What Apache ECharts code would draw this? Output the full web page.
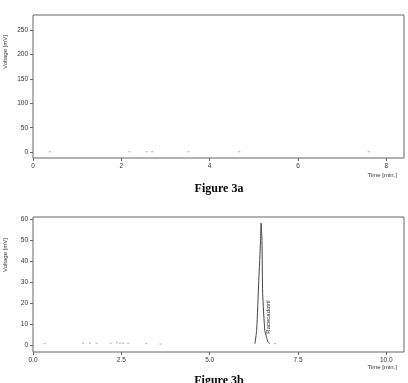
<!DOCTYPE html>
<html>
<head>
<meta charset="utf-8">
<script src="https://cdn.jsdelivr.net/npm/echarts@6/dist/echarts.min.js"></script>
<style>html,body{margin:0;padding:0;background:#fff}#c{width:408px;height:383px}</style>
</head>
<body>
<div id="c"></div>
<script>
// ---- data ----
// Figure 3a: small baseline blips (time [min], voltage [mV])
const aTimes = [0.38, 2.18, 2.57, 2.70, 3.52, 4.67, 7.60];
const aVolts = [0.8, 0.8, 0.8, 0.8, 0.8, 0.8, 0.8];
const aXTicks = [0, 2, 4, 6, 8];
const aYTicks = [0, 50, 100, 150, 200, 250];

// Figure 3b: Racecadotril peak trace
const bPeakTimes = [6.28, 6.33, 6.39, 6.44, 6.455, 6.48, 6.50, 6.56, 6.61, 6.65, 6.71];
const bPeakVolts = [0.7, 7.2, 31, 50, 58.3, 50, 24.8, 7.2, 3.8, 1.6, 0.7];
// Figure 3b: small baseline blips
const bDotTimes = [0.33, 1.42, 1.61, 1.80, 2.20, 2.38, 2.46, 2.55, 2.69, 3.21, 3.61, 6.85];
const bDotVolts = [0.8, 1.0, 1.0, 1.0, 1.0, 1.2, 1.0, 1.0, 1.0, 0.8, 0.6, 0.8];
const bXTicks = [0.0, 2.5, 5.0, 7.5, 10.0];
const bYTicks = [0, 10, 20, 30, 40, 50, 60];
const peakLabel = 'Racecadotril';

// ---- chart ----
const TXT = '#333';
const FR = '#666';
const fontFam = 'Liberation Sans, Arial, sans-serif';

function xAxisCfg(gi, min, max, ticks, dec) {
  return {
    type: 'value', gridIndex: gi, min: min, max: max, position: 'bottom',
    splitLine: {show: false},
    axisLine: {show: false, onZero: false},
    axisTick: {show: true, length: 3, lineStyle: {color: FR}, customValues: ticks},
    axisLabel: {color: TXT, fontSize: 6.5, fontFamily: fontFam, margin: 5, customValues: ticks,
      formatter: v => v.toFixed(dec)}
  };
}
function yAxisCfg(gi, min, max, ticks) {
  return {
    type: 'value', gridIndex: gi, min: min, max: max, position: 'left',
    splitLine: {show: false},
    axisLine: {show: false, onZero: false},
    axisTick: {show: true, length: 3, lineStyle: {color: FR}, customValues: ticks},
    axisLabel: {color: TXT, fontSize: 6.5, fontFamily: fontFam, margin: 5, customValues: ticks,
      formatter: v => String(v)}
  };
}

const chart = echarts.init(document.getElementById('c'), null, {renderer: 'canvas'});
chart.setOption({
  animation: false,
  backgroundColor: '#fff',
  grid: [
    {left: 33, right: 4, top: 15, height: 143, show: true, borderColor: FR, borderWidth: 1, backgroundColor: 'transparent'},
    {left: 33, right: 4, top: 217, height: 135, show: true, borderColor: FR, borderWidth: 1, backgroundColor: 'transparent'}
  ],
  xAxis: [
    xAxisCfg(0, 0, 8.4, aXTicks, 0),
    xAxisCfg(1, 0, 10.5, bXTicks, 1)
  ],
  yAxis: [
    yAxisCfg(0, -12, 281, aYTicks),
    yAxisCfg(1, -3.2, 61.2, bYTicks)
  ],
  series: [
    {
      type: 'scatter', xAxisIndex: 0, yAxisIndex: 0,
      data: aTimes.map((t, i) => [t, aVolts[i]]),
      symbol: 'rect', symbolSize: [2, 1], itemStyle: {color: '#999'}
    },
    {
      type: 'scatter', xAxisIndex: 1, yAxisIndex: 1,
      data: bDotTimes.map((t, i) => [t, bDotVolts[i]]),
      symbol: 'rect', symbolSize: [2, 1], itemStyle: {color: '#999'}
    },
    {
      type: 'line', xAxisIndex: 1, yAxisIndex: 1,
      data: bPeakTimes.map((t, i) => [t, bPeakVolts[i]]),
      showSymbol: false, smooth: 0.2,
      lineStyle: {color: '#444', width: 1}
    }
  ],
  graphic: [
    {type: 'text', x: 5, y: 52, rotation: Math.PI / 2,
      style: {text: 'Voltage [mV]', fill: TXT, font: '6px ' + fontFam, align: 'center', verticalAlign: 'middle'}},
    {type: 'text', x: 5, y: 255, rotation: Math.PI / 2,
      style: {text: 'Voltage [mV]', fill: TXT, font: '6px ' + fontFam, align: 'center', verticalAlign: 'middle'}},
    {type: 'text', x: 397, y: 175,
      style: {text: 'Time [min.]', fill: TXT, font: '6px ' + fontFam, align: 'right', verticalAlign: 'middle'}},
    {type: 'text', x: 397, y: 367,
      style: {text: 'Time [min.]', fill: TXT, font: '6px ' + fontFam, align: 'right', verticalAlign: 'middle'}},
    {type: 'text', x: 219, y: 189,
      style: {text: 'Figure 3a', fill: '#000', font: 'bold 12px Liberation Serif, Times New Roman, serif', align: 'center', verticalAlign: 'middle'}},
    {type: 'text', x: 219, y: 381,
      style: {text: 'Figure 3b', fill: '#000', font: 'bold 12px Liberation Serif, Times New Roman, serif', align: 'center', verticalAlign: 'middle'}},
    {type: 'text', x: 268.5, y: 317, rotation: Math.PI / 2,
      style: {text: peakLabel, fill: '#222', font: '6px ' + fontFam, align: 'center', verticalAlign: 'middle'}}
  ]
});
</script>
</body>
</html>
